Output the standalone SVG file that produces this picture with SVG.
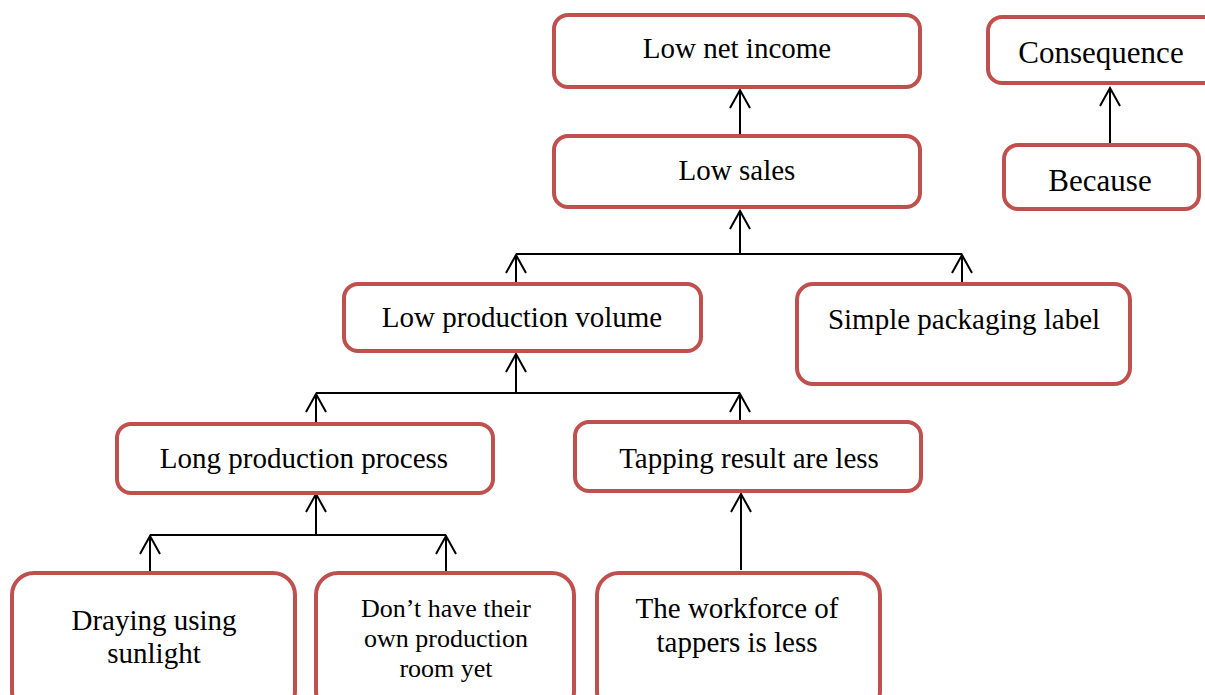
<svg xmlns="http://www.w3.org/2000/svg" width="1205" height="695" viewBox="0 0 1205 695">
  <style>
    .box { fill: #ffffff; stroke: #C0504D; stroke-width: 4; }
    .t { font-family: "Liberation Serif", "Times New Roman", serif; font-size: 29px; fill: #000; text-anchor: middle; }
    .tl { font-family: "Liberation Serif", "Times New Roman", serif; font-size: 31px; fill: #000; text-anchor: middle; }
    .ts { font-family: "Liberation Serif", "Times New Roman", serif; font-size: 26px; fill: #000; text-anchor: middle; }
    .c { fill: none; stroke: #000; stroke-width: 2; }
  </style>
  <defs>
    <marker id="arr" viewBox="-20 -12 22 24" refX="0" refY="0" markerWidth="22" markerHeight="24" markerUnits="userSpaceOnUse" orient="auto">
      <path d="M-18,-10 L0,0 L-18,10" fill="none" stroke="#000" stroke-width="2"/>
    </marker>
  </defs>
  <rect width="1205" height="695" fill="#ffffff"/>

  <g id="connectors">
    <path class="c" d="M740,136 V90" marker-end="url(#arr)"/>
    <path class="c" d="M740,254 V211" marker-end="url(#arr)"/>
    <path class="c" d="M516,254 H962"/>
    <path class="c" d="M516,282 V255" marker-end="url(#arr)"/>
    <path class="c" d="M962,282 V255" marker-end="url(#arr)"/>
    <path class="c" d="M516,393 V354" marker-end="url(#arr)"/>
    <path class="c" d="M316,393 H740"/>
    <path class="c" d="M316,422 V394" marker-end="url(#arr)"/>
    <path class="c" d="M740,420 V394" marker-end="url(#arr)"/>
    <path class="c" d="M316,535 V494" marker-end="url(#arr)"/>
    <path class="c" d="M150,535 H446"/>
    <path class="c" d="M150,571 V536" marker-end="url(#arr)"/>
    <path class="c" d="M446,571 V536" marker-end="url(#arr)"/>
    <path class="c" d="M741,570 V494" marker-end="url(#arr)"/>
    <path class="c" d="M1110,144 V88" marker-end="url(#arr)"/>
  </g>

  <g id="low-net-income">
    <rect class="box" x="554" y="15" width="366" height="72" rx="14"/>
    <text class="t" x="737" y="58">Low net income</text>
  </g>
  <g id="low-sales">
    <rect class="box" x="554" y="136" width="366" height="71" rx="14"/>
    <text class="t" x="737" y="180">Low sales</text>
  </g>
  <g id="consequence">
    <rect class="box" x="988" y="17" width="240" height="66" rx="14"/>
    <text class="tl" x="1101" y="63">Consequence</text>
  </g>
  <g id="because">
    <rect class="box" x="1004" y="145" width="195" height="64" rx="14"/>
    <text class="tl" x="1100" y="191">Because</text>
  </g>
  <g id="low-production-volume">
    <rect class="box" x="344" y="284" width="357" height="67" rx="14"/>
    <text class="t" x="522" y="327">Low production volume</text>
  </g>
  <g id="simple-packaging-label">
    <rect class="box" x="797" y="284" width="333" height="100" rx="16"/>
    <text class="t" x="964" y="329">Simple packaging label</text>
  </g>
  <g id="long-production-process">
    <rect class="box" x="117" y="424" width="376" height="69" rx="14"/>
    <text class="t" x="304" y="468">Long production process</text>
  </g>
  <g id="tapping-result">
    <rect class="box" x="575" y="422" width="346" height="69" rx="14"/>
    <text class="t" x="749" y="468">Tapping result are less</text>
  </g>
  <g id="draying">
    <rect class="box" x="12" y="573" width="283" height="140" rx="22"/>
    <text class="t" x="154" y="630">Draying using</text>
    <text class="t" x="154" y="663">sunlight</text>
  </g>
  <g id="dont-have-room">
    <rect class="box" x="316" y="573" width="258" height="140" rx="22"/>
    <text class="ts" x="446" y="617">Don’t have their</text>
    <text class="ts" x="446" y="647">own production</text>
    <text class="ts" x="446" y="677">room yet</text>
  </g>
  <g id="workforce">
    <rect class="box" x="597" y="573" width="283" height="140" rx="22"/>
    <text class="t" x="737" y="618">The workforce of</text>
    <text class="t" x="737" y="652">tappers is less</text>
  </g>
</svg>
